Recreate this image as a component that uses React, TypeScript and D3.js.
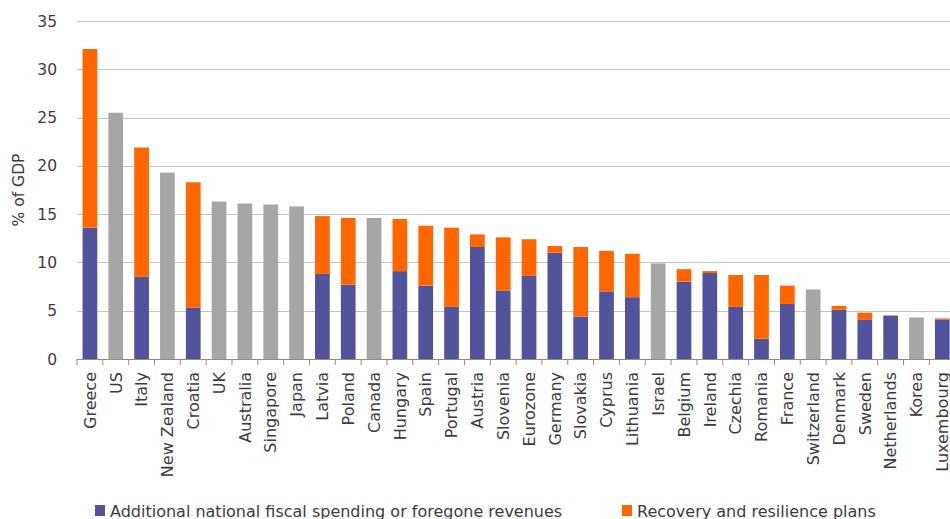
import React from "react";
import * as d3 from "d3";

const countries = ["Greece","US","Italy","New Zealand","Croatia","UK","Australia","Singapore","Japan","Latvia","Poland","Canada","Hungary","Spain","Portugal","Austria","Slovenia","Eurozone","Germany","Slovakia","Cyprus","Lithuania","Israel","Belgium","Ireland","Czechia","Romania","France","Switzerland","Denmark","Sweden","Netherlands","Korea","Luxembourg"];
// Additional national fiscal spending or foregone revenues (EU countries)
const national: (number | null)[] = [13.6,null,8.5,null,5.3,null,null,null,null,8.8,7.7,null,9.1,7.6,5.4,11.6,7.1,8.6,11.0,4.4,7.0,6.4,null,8.0,8.9,5.4,2.1,5.7,null,5.1,4.1,4.5,null,4.1];
// Recovery and resilience plans (EU countries)
const recovery: (number | null)[] = [18.5,null,13.4,null,13.0,null,null,null,null,6.0,6.9,null,5.4,6.2,8.2,1.3,5.5,3.8,0.7,7.2,4.2,4.5,null,1.3,0.2,3.3,6.6,1.9,null,0.4,0.7,0,null,0.1];
// Total support for non-EU countries (grey)
const nonEU: (number | null)[] = [null,25.5,null,19.3,null,16.3,16.1,16.0,15.8,null,null,14.6,null,null,null,null,null,null,null,null,null,null,9.9,null,null,null,null,null,7.2,null,null,null,4.3,null];
const yTicks = [0,5,10,15,20,25,30,35];
const legendLabels = ["Additional national fiscal spending or foregone revenues","Recovery and resilience plans"];

const W = 950, H = 519;
const M = { left: 77, top: 21, bottom: 359 };
const BLUE = "#53539b", ORANGE = "#ff6600", GREY = "#a6a6a6";
const FONT = "'DejaVu Sans', sans-serif";
const TXT = "#3c3c3c";

export default function App() {
  const x = d3.scaleBand<string>().domain(countries).range([M.left, M.left + 25.83 * countries.length]).paddingInner(0.43).paddingOuter(0.215);
  const y = d3.scaleLinear().domain([0, 35]).range([M.bottom, M.top]);
  const bw = x.bandwidth();
  const step = x.step();
  const x0 = M.left;
  const xEnd = W;
  return (
    <svg width={W} height={H} style={{ position: "absolute", left: 0, top: 0, background: "#fff" }} fontFamily={FONT}>
      {yTicks.filter(t => t > 0).map(t => (
        <line key={"g" + t} x1={x0} x2={xEnd} y1={Math.round(y(t)) + 0.5} y2={Math.round(y(t)) + 0.5} stroke="#c4c4c4" strokeWidth={1.2} />
      ))}
      {yTicks.map(t => (
        <text key={"t" + t} x={57} y={y(t)} dy="0.36em" textAnchor="end" fontSize={15.5} fill={TXT}>{t}</text>
      ))}
      <text transform={`translate(24,190) rotate(-90)`} textAnchor="middle" fontSize={15.5} fill={TXT}>% of GDP</text>
      {countries.map((c, i) => {
        const bx = x(c)!;
        const n = national[i], r = recovery[i], g = nonEU[i];
        return (
          <g key={c}>
            {g != null && <rect x={bx} width={bw} y={y(g)} height={y(0) - y(g)} fill={GREY} />}
            {n != null && <rect x={bx} width={bw} y={y(n)} height={y(0) - y(n)} fill={BLUE} />}
            {n != null && r != null && r > 0 && <rect x={bx} width={bw} y={y(n + r)} height={y(n) - y(n + r)} fill={ORANGE} />}
          </g>
        );
      })}
      <line x1={x0} x2={xEnd} y1={M.bottom + 0.5} y2={M.bottom + 0.5} stroke="#8c8c8c" strokeWidth={1.2} />
      {d3.range(countries.length + 1).map(i => (
        <line key={"k" + i} x1={x0 + i * step} x2={x0 + i * step} y1={M.bottom} y2={M.bottom + 6} stroke="#8c8c8c" strokeWidth={1} />
      ))}
      {countries.map(c => (
        <text key={"l" + c} transform={`translate(${x(c)! + bw / 2},372) rotate(-90)`} dy="0.36em" textAnchor="end" fontSize={16} fill={TXT}>{c}</text>
      ))}
      <rect x={95} y={505} width={10} height={11} fill={BLUE} />
      <text x={110} y={517} fontSize={16} fill={TXT}>{legendLabels[0]}</text>
      <rect x={622} y={505} width={10} height={11} fill={ORANGE} />
      <text x={637} y={517} fontSize={16} fill={TXT}>{legendLabels[1]}</text>
    </svg>
  );
}
